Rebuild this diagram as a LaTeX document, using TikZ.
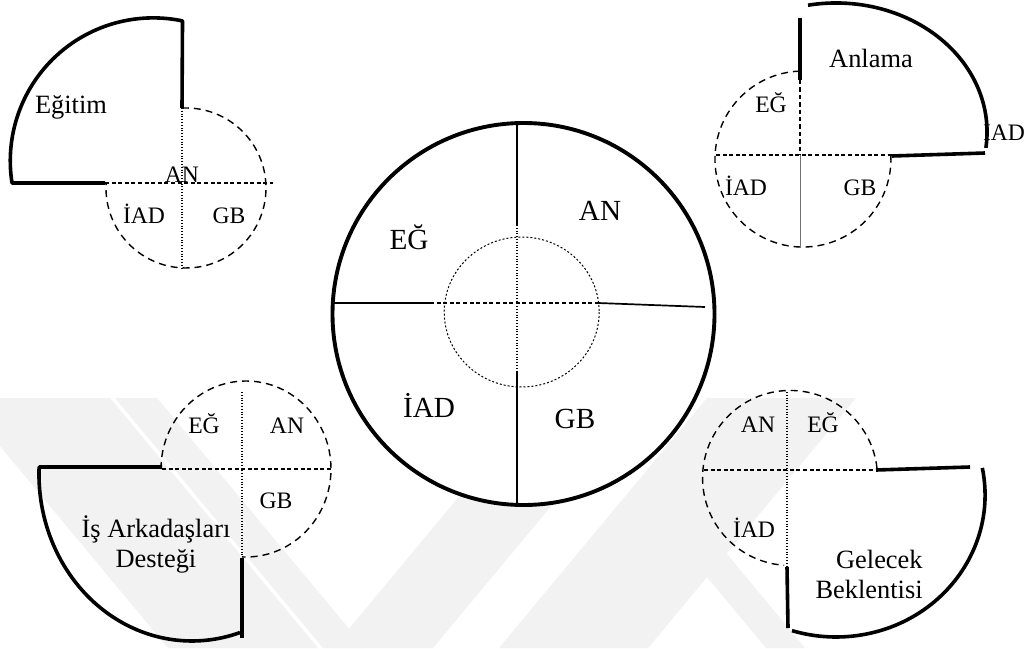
\documentclass[tikz,border=0pt]{standalone}
\usepackage{fontspec}
\setmainfont{Liberation Serif}
\begin{document}
\begin{tikzpicture}[x=0.5pt,y=-0.5pt,
  wm/.style={fill=black!5},
  outline/.style={line width=1.8pt},
  ring/.style={line width=1.95pt},
  crossline/.style={line width=0.85pt},
  dashring/.style={line width=0.7pt, dash pattern=on 3.5pt off 2.5pt},
  midaxis/.style={line width=0.9pt, dash pattern=on 2pt off 1.3pt},
  fineaxis/.style={line width=0.6pt, dash pattern=on 0.5pt off 0.9pt},
  innerring/.style={line width=0.5pt, dash pattern=on 1pt off 1pt},
  lbl/.style={font=\fontsize{11.8pt}{14pt}\selectfont, anchor=base, inner sep=0pt},
  title/.style={font=\fontsize{13.2pt}{15pt}\selectfont, anchor=base, inner sep=0pt},
  biglbl/.style={font=\fontsize{14.6pt}{17pt}\selectfont, anchor=base, inner sep=0pt}]

\fill[white] (0,0) rectangle (1027,648);
\useasboundingbox (0,0) rectangle (1027,648);

% faint background emblem
\fill[wm] (-40,398) -- (110,398) -- (318,648) -- (168,648) -- cycle;
\fill[wm] (115,398) -- (157,398) -- (365,648) -- (323,648) -- cycle;
\fill[wm] (333,648) -- (433,648) -- (641,398) -- (541,398) -- cycle;
\fill[wm] (499,648) -- (648,648) -- (856,398) -- (707,398) -- cycle;
\fill[wm] (707,530) -- (805,648) -- (766,648) -- (707,577) -- cycle;

% ---------- central circle ----------
\draw[ring, fill=white] (523.5,314) circle[radius=191];
\draw[innerring] (521.7,312) ellipse[x radius=77.5, y radius=75];
\coordinate (cN) at (517,123);
\coordinate (cNi) at (517,225);
\coordinate (cSi) at (517,372);
\coordinate (cS) at (517,506);
\coordinate (cW) at (333,303);
\coordinate (cWi) at (430,303);
\coordinate (cEi) at (598,303);
\coordinate (cE) at (705,307);
\draw[crossline] (cN) -- (cNi);
\draw[fineaxis] (cNi) -- (cSi);
\draw[crossline] (cSi) -- (cS);
\draw[crossline] (cW) -- (cWi);
\draw[midaxis] (cWi) -- (cEi);
\draw[crossline] (cEi) -- (cE);
\node[biglbl] (cEG) at (409,249) {EĞ};
\node[biglbl] (cAN) at (600,220) {AN};
\node[biglbl] (cIAD) at (429,417) {İAD};
\node[biglbl] (cGB) at (575,428) {GB};

% ---------- Eğitim (top left) ----------
\draw[outline, line join=round] (105,183) -- (12,183)
  arc[start angle=171.1, end angle=281.8, radius=143] -- (182,108);
\draw[dashring] (181.8,108.1) arc[start angle=267, end angle=543.6, radius=80];
\draw[midaxis] (105,183) -- (273,183);
\draw[fineaxis] (182,108) -- (182,270);
\node[title] (tlT) at (71,113) {Eğitim};
\node[lbl] (tlAN) at (182,182) {AN};
\node[lbl] (tlIAD) at (144,223) {İAD};
\node[lbl] (tlGB) at (229,223) {GB};

% ---------- Anlama (top right) ----------
\draw[outline] (800,18) -- (800,80);
\draw[outline] (892,156) -- (985,153);
\draw[outline] (808,5.2) arc[start angle=259.3, end angle=367.1, x radius=151, y radius=129];
\draw[dashring] (799.9,71.1) arc[start angle=268, end angle=-2.6, radius=88];
\draw[midaxis] (716,155) -- (892,155);
\draw[dash pattern=on 2.2pt off 1.5pt, line width=0.75pt] (800,80) -- (800,155);
\draw[line width=0.4pt, black!55] (800,155) -- (800,248);
\node[title] (trT) at (871,67) {Anlama};
\node[lbl] (trEG) at (771,112) {EĞ};
\node[lbl] (trIADr) at (1004,140) {İAD};
\node[lbl] (trIAD) at (746,195) {İAD};
\node[lbl] (trGB) at (860,195) {GB};

% ---------- İş Arkadaşları Desteği (bottom left) ----------
\draw[outline, line join=round] (162,467) -- (39.1,467)
  arc[start angle=182.4, end angle=71.7, x radius=153, y radius=167];
\draw[outline] (242,558) -- (242,638);
\draw[dashring] (161,469) arc[start angle=180, end angle=452.7, x radius=85, y radius=88];
\draw[midaxis] (162,469) -- (332,469);
\draw[fineaxis] (242,392) -- (242,555);
\node[lbl] (blEG) at (204,433) {EĞ};
\node[lbl] (blAN) at (287,433) {AN};
\node[lbl] (blGB) at (276,508) {GB};
\node[title] (blT1) at (156,537) {İş Arkadaşları};
\node[title] (blT2) at (156,567) {Desteği};

% ---------- Gelecek Beklentisi (bottom right) ----------
\draw[outline] (876,470) -- (970,467);
\draw[outline] (982.3,467.9) arc[start angle=-11, end angle=107.2, x radius=149, y radius=142];
\draw[outline] (787,567) -- (788,628);
\draw[dashring] (877,468.2) arc[start angle=-6.4, end angle=-266.1, radius=87.5];
\draw[midaxis] (704,470) -- (877,470);
\draw[fineaxis] (787,392) -- (787,567);
\node[lbl] (brAN) at (758,432) {AN};
\node[lbl] (brEG) at (823,432) {EĞ};
\node[lbl] (brIAD) at (754,537) {İAD};
\node[title, anchor=base east] (brT1) at (923,568) {Gelecek};
\node[title, anchor=base east] (brT2) at (923,598) {Beklentisi};

\end{tikzpicture}
\end{document}
